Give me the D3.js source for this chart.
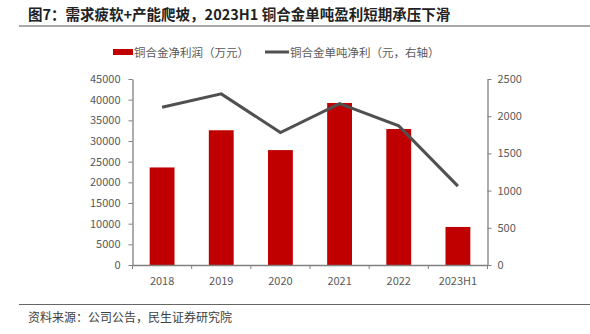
<!DOCTYPE html>
<html><head><meta charset="utf-8">
<script src="https://cdn.jsdelivr.net/npm/d3@7/dist/d3.min.js"></script>
<style>body{margin:0;background:#fff}svg{display:block}</style>
</head><body>
<script>
const categories = ["2018","2019","2020","2021","2022","2023H1"];
const profit = [23600, 32600, 27800, 39200, 32900, 9200];
const perTon = [2120, 2300, 1780, 2170, 1870, 1060];
const leftTicks = [0,5000,10000,15000,20000,25000,30000,35000,40000,45000];
const rightTicks = [0,500,1000,1500,2000,2500];
const title = "图7：需求疲软+产能爬坡，2023H1 铜合金单吨盈利短期承压下滑";
const legendBar = "铜合金净利润（万元）";
const legendLine = "铜合金单吨净利（元，右轴）";
const source = "资料来源：公司公告，民生证券研究院";

const W=590,H=334;
const font='"Microsoft YaHei","Noto Sans CJK SC",sans-serif';
const svg=d3.select("body").append("svg").attr("width",W).attr("height",H).style("font-family",font);
const L=132.5,R=487.5,T=79,B=265;
const x=d3.scaleBand().domain(categories).range([L,R]).paddingInner(0.58).paddingOuter(0.29);
const yL=d3.scaleLinear().domain([0,45000]).range([B,T]);
const yR=d3.scaleLinear().domain([0,2500]).range([B,T]);
const axisColor="#808080", txt="#595959";
const fmt=d3.format("d");

svg.append("text").attr("x",28).attr("y",20).attr("font-size",14.5).attr("font-weight","bold").attr("fill","#222").text(title);
svg.append("line").attr("x1",19).attr("x2",W).attr("y1",26).attr("y2",26).attr("stroke","#555").attr("stroke-width",1.2);

// legend
svg.append("rect").attr("x",113).attr("y",49).attr("width",20).attr("height",6).attr("fill","#C00000");
svg.append("text").attr("x",134).attr("y",56.5).attr("font-size",11.5).attr("fill",txt).text(legendBar);
svg.append("line").attr("x1",265).attr("x2",289).attr("y1",52).attr("y2",52).attr("stroke","#505050").attr("stroke-width",3);
svg.append("text").attr("x",290).attr("y",56.5).attr("font-size",11.5).attr("fill",txt).text(legendLine);

// bars
svg.selectAll("rect.bar").data(categories).enter().append("rect").attr("class","bar")
 .attr("x",d=>x(d)).attr("width",x.bandwidth())
 .attr("y",(d,i)=>yL(profit[i])).attr("height",(d,i)=>B-yL(profit[i])).attr("fill","#C00000");

// axes
const gl=svg.append("g").attr("transform",`translate(${L},0)`).call(d3.axisLeft(yL).tickValues(leftTicks).tickFormat(fmt).tickSize(4).tickPadding(8).tickSizeOuter(0));
const gr=svg.append("g").attr("transform",`translate(${R},0)`).call(d3.axisRight(yR).tickValues(rightTicks).tickFormat(fmt).tickSize(4).tickPadding(6).tickSizeOuter(0));
const gx=svg.append("g").attr("transform",`translate(0,${B})`).call(d3.axisBottom(x).tickSize(0).tickPadding(12));
svg.selectAll("line.xt").data(d3.range(categories.length+1)).enter().append("line").attr("class","xt")
 .attr("x1",i=>L+i*(R-L)/categories.length).attr("x2",i=>L+i*(R-L)/categories.length)
 .attr("y1",B).attr("y2",B+4).attr("stroke",axisColor);
[gl,gr,gx].forEach(g=>{
  g.selectAll("path").attr("stroke",axisColor).attr("stroke-width",1.3);
  g.selectAll("line").attr("stroke",axisColor);
  g.selectAll("text").attr("fill",txt).attr("font-size",11).attr("font-family",font);
});
gx.select("path").attr("stroke-width",1.5);

// line
const line=d3.line().x((d,i)=>x(categories[i])+x.bandwidth()/2).y(d=>yR(d));
svg.append("path").datum(perTon).attr("d",line).attr("fill","none").attr("stroke","#505050").attr("stroke-width",3);

// footer
svg.append("line").attr("x1",19).attr("x2",W).attr("y1",304.5).attr("y2",304.5).attr("stroke","#666").attr("stroke-width",1.2);
svg.append("text").attr("x",28).attr("y",322).attr("font-size",12).attr("fill","#404040").text(source);
</script>
</body></html>
